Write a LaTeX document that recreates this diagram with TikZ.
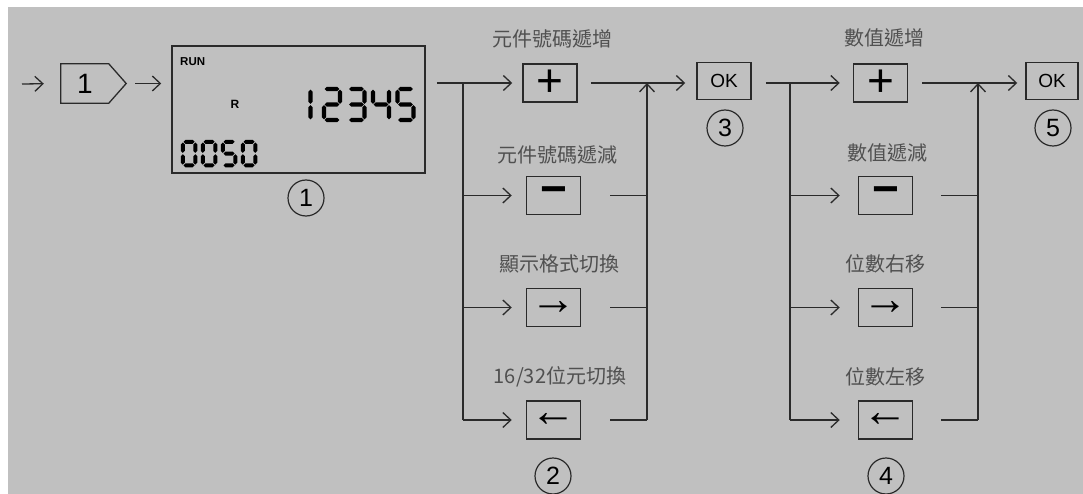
\documentclass[tikz,border=0pt]{standalone}
\usepackage{fontspec}
\setmainfont{Liberation Sans}
\newfontfamily\cjk{Noto Sans CJK TC}
\usetikzlibrary{arrows.meta}
\definecolor{bg}{HTML}{C0C0C0}
\definecolor{ln}{HTML}{2A2A2A}
\definecolor{lbl}{HTML}{505050}
\tikzset{
 conn/.style={draw=ln, line width=1.3pt},
 arr/.style={conn, -{Straight Barb[length=8pt,width=15pt]}},
 keybox/.style={draw=ln, line width=1.5pt, minimum width=54pt, minimum height=38pt, inner sep=0pt, font=\fontsize{46}{46}\selectfont},
 arrbox/.style={keybox, font=\fontsize{46}{46}\selectfont\bfseries},
 okbox/.style={draw=ln, line width=1.5pt, minimum width=54pt, minimum height=37pt, inner sep=0pt, font=\fontsize{19}{19}\selectfont},
 lab/.style={text=lbl, font=\cjk\fontsize{20}{20}\selectfont, inner sep=0pt},
 num/.style={draw=ln, circle, line width=1.2pt, minimum size=36pt, inner sep=0pt, font=\fontsize{25}{25}\selectfont},
}
% seven-segment digit: x, y (top-left of segment centre lines), width, height, thickness, segments
\newcommand\sevseg[6]{%
\begin{scope}[shift={(#1,#2)}]
\pgfmathsetmacro\sgw{#3}\pgfmathsetmacro\sgh{#4}\pgfmathsetmacro\sgt{#5/2}\pgfmathsetmacro\sgg{0.7}\pgfmathsetmacro\sgm{#4/2}
\foreach \sgx in {#6}{%
 \if\sgx a\fill ({\sgg},0) -- ({\sgg+\sgt},-\sgt) -- ({\sgw-\sgg-\sgt},-\sgt) -- ({\sgw-\sgg},0) -- ({\sgw-\sgg-\sgt},\sgt) -- ({\sgg+\sgt},\sgt) -- cycle;\fi
 \if\sgx g\fill ({\sgg},\sgm) -- ({\sgg+\sgt},{\sgm-\sgt}) -- ({\sgw-\sgg-\sgt},{\sgm-\sgt}) -- ({\sgw-\sgg},\sgm) -- ({\sgw-\sgg-\sgt},{\sgm+\sgt}) -- ({\sgg+\sgt},{\sgm+\sgt}) -- cycle;\fi
 \if\sgx d\fill ({\sgg},\sgh) -- ({\sgg+\sgt},{\sgh-\sgt}) -- ({\sgw-\sgg-\sgt},{\sgh-\sgt}) -- ({\sgw-\sgg},\sgh) -- ({\sgw-\sgg-\sgt},{\sgh+\sgt}) -- ({\sgg+\sgt},{\sgh+\sgt}) -- cycle;\fi
 \if\sgx b\fill (\sgw,{\sgg}) -- ({\sgw+\sgt},{\sgg+\sgt}) -- ({\sgw+\sgt},{\sgm-\sgg-\sgt}) -- (\sgw,{\sgm-\sgg}) -- ({\sgw-\sgt},{\sgm-\sgg-\sgt}) -- ({\sgw-\sgt},{\sgg+\sgt}) -- cycle;\fi
 \if\sgx c\fill (\sgw,{\sgm+\sgg}) -- ({\sgw+\sgt},{\sgm+\sgg+\sgt}) -- ({\sgw+\sgt},{\sgh-\sgg-\sgt}) -- (\sgw,{\sgh-\sgg}) -- ({\sgw-\sgt},{\sgh-\sgg-\sgt}) -- ({\sgw-\sgt},{\sgm+\sgg+\sgt}) -- cycle;\fi
 \if\sgx f\fill (0,{\sgg}) -- ({\sgt},{\sgg+\sgt}) -- ({\sgt},{\sgm-\sgg-\sgt}) -- (0,{\sgm-\sgg}) -- ({-\sgt},{\sgm-\sgg-\sgt}) -- ({-\sgt},{\sgg+\sgt}) -- cycle;\fi
 \if\sgx e\fill (0,{\sgm+\sgg}) -- ({\sgt},{\sgm+\sgg+\sgt}) -- ({\sgt},{\sgh-\sgg-\sgt}) -- (0,{\sgh-\sgg}) -- ({-\sgt},{\sgh-\sgg-\sgt}) -- ({-\sgt},{\sgm+\sgg+\sgt}) -- cycle;\fi
}
\end{scope}}
\begin{document}
\begin{tikzpicture}[x=1pt,y=-1pt]
\useasboundingbox (0,0) rectangle (1083,494);
\fill[bg] (8,7) rectangle (1083,494);

% entry
\coordinate (s0) at (22,84);
\node (p1) [minimum width=65pt, minimum height=39pt, inner sep=0pt] at (93.5,83.5) {};
\draw[conn] (p1.north west) -- ([xshift=48pt]p1.north west) -- (p1.east) -- ([xshift=48pt]p1.south west) -- (p1.south west) -- cycle;
\node[font=\fontsize{28}{28}\selectfont, inner sep=0pt] (p1t) at (85,84) {1};
\draw[arr, shorten >=17pt] (s0) -- (p1.west);

% LCD
\node (lcd) [draw=ln, line width=1.5pt, minimum width=253pt, minimum height=127pt, inner sep=0pt] at (298.5,109.5) {};
\draw[arr, shorten <=9pt, shorten >=10pt] (p1.east) -- (p1.east -| lcd.west);
\node[font=\bfseries\fontsize{11.5}{12}\selectfont, anchor=west, inner sep=0pt] (run) at (180,62) {RUN};
\node[font=\bfseries\fontsize{12}{12}\selectfont, inner sep=0pt] (rr) at (235,104) {R};
\sevseg{310.5}{89}{16}{31}{4.4}{e,f}
\sevseg{324}{89}{16}{31}{4.4}{a,b,g,e,d}
\sevseg{348.5}{89}{16}{31}{4.4}{a,b,g,c,d}
\sevseg{373}{89}{16}{31}{4.4}{f,g,b,c}
\sevseg{397.5}{89}{16}{31}{4.4}{a,f,g,c,d}
\sevseg{182.8}{141.8}{12.5}{23.5}{4}{a,b,c,d,e,f}
\sevseg{202.8}{141.8}{12.5}{23.5}{4}{a,b,c,d,e,f}
\sevseg{222.8}{141.8}{12.5}{23.5}{4}{a,f,g,c,d}
\sevseg{242.8}{141.8}{12.5}{23.5}{4}{a,b,c,d,e,f}
\node[num] (n1) at (306,198) {1};

% section 2
\node[lab] (l2a) at (552,39) {元件號碼遞增};
\node[lab] (l2b) at (557,155) {元件號碼遞減};
\node[lab] (l2c) at (559,264) {顯示格式切換};
\node[lab] (l2d) at (560,377) {16/32位元切換};
\node[keybox] (k2a) at (550,83) {+};
\node[keybox, font=\fontsize{46}{46}\selectfont\bfseries] (k2b) at (553.5,195.5) {−};
\node[arrbox] (k2c) at (553.5,307.5) {→};
\node[arrbox] (k2d) at (553.5,420) {←};
\node[num] (n2) at (553,476) {2};
\coordinate (j2) at (463,83);
\coordinate (m2) at (647,83);
\draw[arr, shorten <=11pt, shorten >=10pt] (lcd.east |- k2a) -- (k2a.west);
\draw[conn] (j2) -- (j2 |- k2d);
\draw[arr, shorten >=14pt] (j2 |- k2b) -- (k2b.west);
\draw[arr, shorten >=14pt] (j2 |- k2c) -- (k2c.west);
\draw[arr, shorten >=14pt] (j2 |- k2d) -- (k2d.west);
\node[okbox] (ok1) at (724,81) {OK};
\node[num] (n3) at (725,128) {3};
\draw[arr, shorten <=13pt, shorten >=11pt] (k2a.east) -- (k2a.east -| ok1.west);
\draw[conn, shorten <=29pt] (k2b.east) -- (m2 |- k2b);
\draw[conn, shorten <=29pt] (k2c.east) -- (m2 |- k2c);
\draw[conn, shorten <=29pt] (k2d.east) -- (m2 |- k2d);
\draw[arr] (m2 |- k2d) -- (m2);

% section 4
\node[lab] (l4a) at (884,38) {數值遞增};
\node[lab] (l4b) at (887,153) {數值遞減};
\node[lab] (l4c) at (885,264) {位數右移};
\node[lab] (l4d) at (885,377) {位數左移};
\node[keybox] (k4a) at (880.5,83) {+};
\node[keybox, font=\fontsize{46}{46}\selectfont\bfseries] (k4b) at (885.5,195.5) {−};
\node[arrbox] (k4c) at (885.5,307.5) {→};
\node[arrbox] (k4d) at (885.5,420) {←};
\node[num] (n4) at (886,476) {4};
\coordinate (j4) at (790,83);
\coordinate (m4) at (978,83);
\draw[arr, shorten <=14pt, shorten >=13pt] (ok1.east |- k4a) -- (k4a.west);
\draw[conn] (j4) -- (j4 |- k4d);
\draw[arr, shorten >=18pt] (j4 |- k4b) -- (k4b.west);
\draw[arr, shorten >=18pt] (j4 |- k4c) -- (k4c.west);
\draw[arr, shorten >=18pt] (j4 |- k4d) -- (k4d.west);
\node[okbox, minimum width=52pt] (ok2) at (1052,81) {OK};
\node[num] (n5) at (1053,128) {5};
\draw[arr, shorten <=14pt, shorten >=8pt] (k4a.east) -- (k4a.east -| ok2.west);
\draw[conn, shorten <=28pt] (k4b.east) -- (m4 |- k4b);
\draw[conn, shorten <=28pt] (k4c.east) -- (m4 |- k4c);
\draw[conn, shorten <=28pt] (k4d.east) -- (m4 |- k4d);
\draw[arr] (m4 |- k4d) -- (m4);
\end{tikzpicture}
\end{document}
